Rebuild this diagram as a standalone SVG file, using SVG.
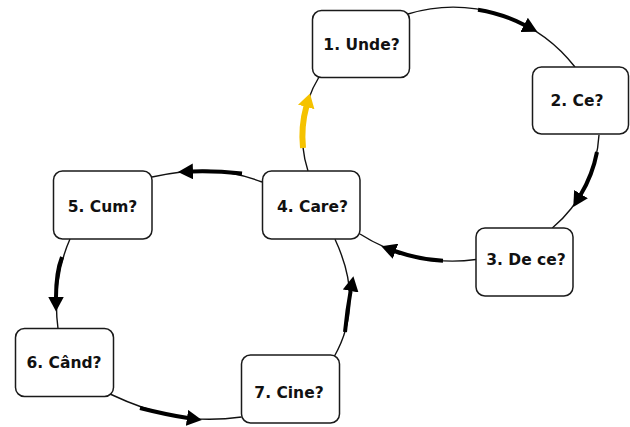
<svg xmlns="http://www.w3.org/2000/svg" width="630" height="427" viewBox="0 0 630 427">
  <defs>
    <style>
      .node rect { fill: #ffffff; stroke: #1a1a1a; stroke-width: 1.5; }
      .node text { font-family: "DejaVu Sans", Verdana, sans-serif; font-weight: bold; font-size: 15.5px; fill: #111111; text-anchor: middle; }
      .thin { fill: none; stroke: #111111; stroke-width: 1.4; }
      .thick { fill: none; stroke: #000000; stroke-width: 4; marker-end: url(#ah); }
      .yellow { fill: none; stroke: #F5C200; stroke-width: 6; marker-end: url(#ahy); }
    </style>
    <marker id="ah" viewBox="0 0 15 16" markerWidth="15" markerHeight="16" refX="1" refY="8" orient="auto" markerUnits="userSpaceOnUse">
      <path d="M0,0 L15,8 L0,16 z" fill="#000000"/>
    </marker>
    <marker id="ahy" viewBox="0 0 14 17" markerWidth="14" markerHeight="17" refX="1" refY="8.5" orient="auto" markerUnits="userSpaceOnUse">
      <path d="M0,0 L14,8.5 L0,17 z" fill="#F5C200"/>
    </marker>
  </defs>
  <rect x="0" y="0" width="630" height="427" fill="#ffffff"/>
  <g id="connectors">
    <path class="thin" d="M408,14 A154.5 154.5 0 0 1 575,67"/>
    <path class="thick" d="M478,9.7 A154.5 154.5 0 0 1 525,25.3"/>
    <path class="thin" d="M599,135 A131.1 131.1 0 0 1 552.3,228"/>
    <path class="thick" d="M597,152 A131.1 131.1 0 0 1 580.5,195"/>
    <path class="thin" d="M476,259.5 A171.2 171.2 0 0 1 360,234"/>
    <path class="thick" d="M443,260.8 A171.2 171.2 0 0 1 394.5,251"/>
    <path class="thin" d="M308,171 A113.4 113.4 0 0 1 319,77"/>
    <path class="yellow" d="M303,148 A113.4 113.4 0 0 1 306.5,106"/>
    <path class="thin" d="M262,182 C222,166.8 192,168.2 152,177"/>
    <path class="thick" d="M242,173.5 Q215,170.7 192,171.5"/>
    <path class="thin" d="M70,239 C57.8,266.4 54,298.8 58,328.5"/>
    <path class="thick" d="M62,257 Q56,272 56,297.5"/>
    <path class="thin" d="M110,394 C155.25,415.2 191.5,424 241.5,417"/>
    <path class="thick" d="M140,408 Q168,415.1 188,418"/>
    <path class="thin" d="M334,357 C356,318 354,280 335,239.3"/>
    <path class="thick" d="M345,332 Q347.1,309.7 350.8,290"/>
  </g>
  <g id="n1" class="node"><rect x="312.5" y="10.5" width="97" height="67" rx="9"/><text x="361.5" y="50">1. Unde?</text></g>
  <g id="n2" class="node"><rect x="532.5" y="67" width="96" height="67" rx="9"/><text x="577" y="106">2. Ce?</text></g>
  <g id="n3" class="node"><rect x="476" y="228" width="97" height="68" rx="9"/><text x="526" y="265">3. De ce?</text></g>
  <g id="n4" class="node"><rect x="262.5" y="171" width="97.5" height="68" rx="9"/><text x="312.5" y="212">4. Care?</text></g>
  <g id="n5" class="node"><rect x="53.5" y="171" width="98.5" height="68" rx="9"/><text x="102.5" y="212">5. Cum?</text></g>
  <g id="n6" class="node"><rect x="15.5" y="328.5" width="98" height="68" rx="9"/><text x="64" y="368">6. Când?</text></g>
  <g id="n7" class="node"><rect x="241.5" y="355" width="98" height="68" rx="9"/><text x="289" y="398">7. Cine?</text></g>
</svg>
